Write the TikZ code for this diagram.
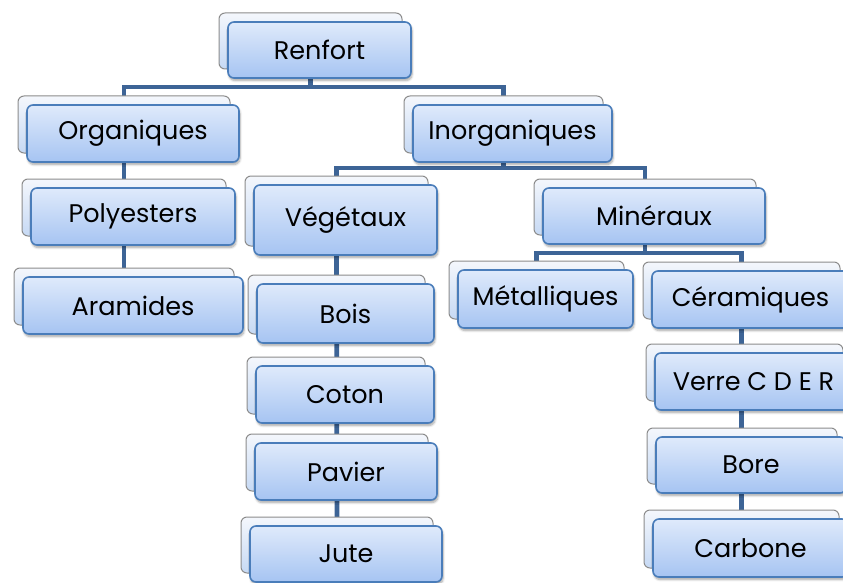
\documentclass[tikz,border=0pt]{standalone}
\usepackage{fontspec}
\setmainfont{Poppins}
\usetikzlibrary{backgrounds,shadows.blur}

\definecolor{fronttop}{HTML}{DFEAFB}
\definecolor{frontbot}{HTML}{A6C4F2}
\definecolor{frontedge}{HTML}{4A7DBA}
\definecolor{backtop}{HTML}{F4F7FC}
\definecolor{backbot}{HTML}{C6D9F4}
\definecolor{backedge}{HTML}{8C8C8C}
\definecolor{linkcol}{HTML}{3D6496}

\tikzset{
  backbox/.style={draw=backedge, line width=1pt, rounded corners=6pt,
    top color=backtop, bottom color=backbot, inner sep=0pt},
  frontbox/.style={draw=frontedge, line width=1.6pt, rounded corners=6pt,
    top color=fronttop, bottom color=frontbot, inner sep=0pt,
    font=\fontsize{25.5}{30}\selectfont, text=black,
    blur shadow={shadow xshift=1pt, shadow yshift=-2.5pt,
      shadow blur steps=6, shadow opacity=35}},
  link/.style={draw=linkcol, line width=4.8pt}
}

% two stacked boxes: name, centre x, centre y, width, height, label
\newcommand\duobox[6]{%
  \node[backbox, minimum width=#4pt, minimum height=#5pt] (#1-b) at (#2-9,#3-9) {};
  \node[frontbox, minimum width=#4pt, minimum height=#5pt] (#1) at (#2,#3) {#6};
}

\begin{document}
\begin{tikzpicture}[x=1pt,y=-1pt]
\useasboundingbox (0,0) rectangle (843,583);
\clip (0,0) rectangle (843,583);

\duobox{renfort}{319.5}{50}{183}{56}{Renfort}
\duobox{organiques}{133}{133.5}{212}{57}{Organiques}
\duobox{inorganiques}{512.5}{133.5}{199}{57}{Inorganiques}
\duobox{polyesters}{133}{216.5}{204}{57}{Polyesters}
\duobox{aramides}{133}{305.5}{220}{57}{Aramides}
\duobox{vegetaux}{345.5}{220}{183}{70}{Végétaux}
\duobox{mineraux}{654}{216}{222}{56}{Minéraux}
\duobox{metalliques}{545.5}{299}{175}{58}{Métalliques}
\duobox{ceramiques}{750.5}{299.5}{197}{57}{Céramiques}
\duobox{bois}{345.5}{313.5}{177}{59}{Bois}
\duobox{coton}{345}{394.5}{178}{57}{Coton}
\duobox{pavier}{346}{471.5}{182}{57}{Pavier}
\duobox{jute}{346}{554}{192}{56}{Jute}
\duobox{verre}{753.5}{381.5}{197}{57}{Verre C D E R}
\duobox{bore}{751}{465}{190}{56}{Bore}
\duobox{carbone}{750.5}{548}{195}{58}{Carbone}

\coordinate (barA) at (0,87);
\coordinate (barB) at (0,168);
\coordinate (barC) at (0,253);

\begin{pgfonlayer}{background}
  \draw[link] (renfort-b.center) -- (renfort-b.center |- barA) -| (organiques-b.center);
  \draw[link] (renfort-b.center |- barA) -| (inorganiques-b.center);
  \draw[link] (organiques-b.center) -- (aramides-b.center);
  \draw[link] (inorganiques-b.center) -- (inorganiques-b.center |- barB) -| (vegetaux-b.center);
  \draw[link] (inorganiques-b.center |- barB) -| (mineraux-b.center);
  \draw[link] (vegetaux-b.center) -- (jute-b.center);
  \draw[link] (mineraux-b.center) -- (mineraux-b.center |- barC) -| (metalliques-b.center);
  \draw[link] (mineraux-b.center |- barC) -| (ceramiques-b.center);
  \draw[link] (ceramiques-b.center) -- (carbone-b.center);
\end{pgfonlayer}
\end{tikzpicture}
\end{document}
